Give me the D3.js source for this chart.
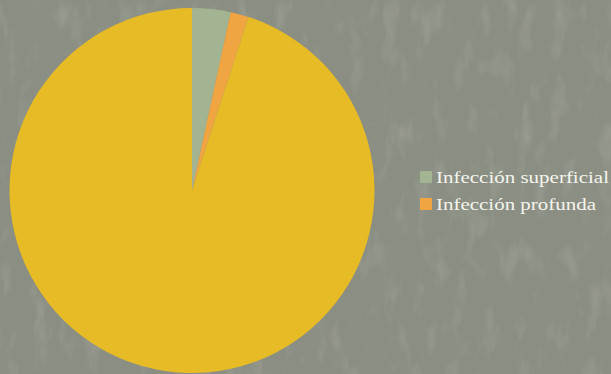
<!DOCTYPE html>
<html><head><meta charset="utf-8">
<script src="https://cdn.jsdelivr.net/npm/d3@7"></script>
<style>html,body{margin:0;padding:0;background:#8a8d81;}svg{display:block;}</style>
</head><body>
<svg id="c" width="611" height="374"></svg>
<script>
const categories = ["Infección superficial", "Infección profunda", "Sin infección"];
const values = [3.4, 1.6, 95.0];
const legendItems = ["Infección superficial", "Infección profunda"];
const legendWidths = [173, 160];
const colors = ["#a2b492", "#f0a442", "#e6bb25"];

const svg = d3.select("#c");
const defs = svg.append("defs");
const f = defs.append("filter").attr("id","tex").attr("x",0).attr("y",0).attr("width","100%").attr("height","100%");
f.append("feTurbulence").attr("type","fractalNoise").attr("baseFrequency","0.06 0.025").attr("numOctaves",3).attr("seed",7).attr("result","n");
f.append("feColorMatrix").attr("in","n").attr("type","matrix")
  .attr("values","0 0 0 0 0.42  0 0 0 0 0.44  0 0 0 0 0.39  0 0 0 -0.9 0.42").attr("result","m");
f.append("feComposite").attr("in","m").attr("in2","SourceGraphic").attr("operator","over");
svg.append("rect").attr("width",611).attr("height",374).attr("fill","#8b8e82").attr("filter","url(#tex)");

const cx = 192, cy = 190.5, r = 182.5;
const pie = d3.pie().sort(null).value(d => d);
const arc = d3.arc().innerRadius(0).outerRadius(r);
const g = svg.append("g").attr("transform", `translate(${cx},${cy})`);
g.selectAll("path").data(pie(values)).join("path")
  .attr("d", arc).attr("fill", (d,i) => colors[i]);

const color = d3.scaleOrdinal().domain(categories).range(colors);
const y = d3.scaleBand().domain(legendItems).range([169, 223]);
const lg = svg.append("g");
const items = lg.selectAll("g").data(legendItems).join("g")
  .attr("transform", d => `translate(420,${y(d)})`);
items.append("rect").attr("x",0).attr("y",2).attr("width",12).attr("height",12).attr("fill", d => color(d));
items.append("text").attr("x",16).attr("y",14)
  .attr("font-family","'Liberation Serif', 'DejaVu Serif', serif").attr("font-size",17.5)
  .attr("textLength", (d,i) => legendWidths[i]).attr("lengthAdjust","spacingAndGlyphs")
  .attr("fill","#f4f4ee").text(d => d);
</script>
</body></html>
